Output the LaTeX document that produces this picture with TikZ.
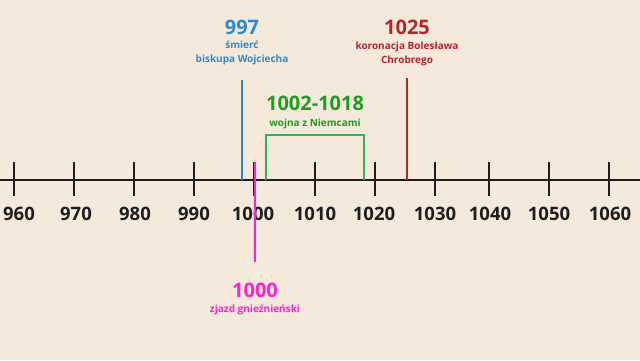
\documentclass[tikz,border=0pt]{standalone}
\usepackage{fontspec}
\setmainfont{Open Sans}
\definecolor{bg}{HTML}{F5E9DB}
\definecolor{ax}{HTML}{1E1E1E}
\definecolor{cblue}{HTML}{2B8BD0}
\definecolor{cred}{HTML}{B0282E}
\definecolor{cgreen}{HTML}{1E9E1E}
\definecolor{cbox}{HTML}{35B060}
\definecolor{cmag}{HTML}{FF22D0}
\begin{document}
\begin{tikzpicture}[x=1pt,y=-1pt,
  yearlbl/.style={font=\bfseries\fontsize{18.5}{20}\selectfont,text=ax,inner sep=0pt},
  bignum/.style={font=\bfseries\fontsize{20}{22}\selectfont,inner sep=0pt},
  small/.style={font=\bfseries\fontsize{10}{14}\selectfont,inner sep=0pt,align=center},
  tick/.style={draw=ax,line width=1.6pt},
  evline/.style={line width=1.6pt}]
\fill[bg] (0,0) rectangle (640,360);
\useasboundingbox (0,0) rectangle (640,360);
\coordinate (axL) at (0,180);
\coordinate (axR) at (640,180);
\draw[ax,line width=1.6pt] (axL) -- (axR);
\foreach \x/\lx/\y in {14/19/960,74/76/970,134/135/980,194/194/990,254/253/1000,315/315/1010,375/374/1020,435/435/1030,489/490/1040,549/549/1050,609/610/1060}{
  \coordinate (t\y a) at (\x,162);
  \coordinate (t\y b) at (\x,196);
  \draw[tick] (t\y a) -- (t\y b);
  \node[yearlbl] (l\y) at (\lx,214) {\y};
}
% 997
\coordinate (b1) at (242,80);
\coordinate (b2) at (242,180);
\draw[evline,cblue] (b1) -- (b2);
\node[bignum,text=cblue] (n997) at (242,27) {997};
\node[small,text=cblue] (d997) at (242,53) {śmierć\\biskupa Wojciecha};
% 1025
\coordinate (r1) at (407,78);
\coordinate (r2) at (407,180);
\draw[evline,cred] (r1) -- (r2);
\node[bignum,text=cred] (n1025) at (407,27) {1025};
\node[small,text=cred] (d1025) at (407,54) {koronacja Bolesława\\Chrobrego};
% 1002-1018
\coordinate (g1) at (266,180);
\coordinate (g2) at (266,135);
\coordinate (g3) at (364,135);
\coordinate (g4) at (364,180);
\draw[evline,cbox] (g1) -- (g2) -- (g3) -- (g4);
\node[bignum,text=cgreen] (n1002) at (315,103) {1002-1018};
\node[small,text=cgreen] (d1002) at (315,124) {wojna z Niemcami};
% 1000
\coordinate (m1) at (255,162);
\coordinate (m2) at (255,262);
\draw[evline,cmag] (m1) -- (m2);
\node[bignum,text=cmag] (n1000) at (255,290) {1000};
\node[small,text=cmag] (d1000) at (255,310) {zjazd gnieźnieński};
\end{tikzpicture}
\end{document}
